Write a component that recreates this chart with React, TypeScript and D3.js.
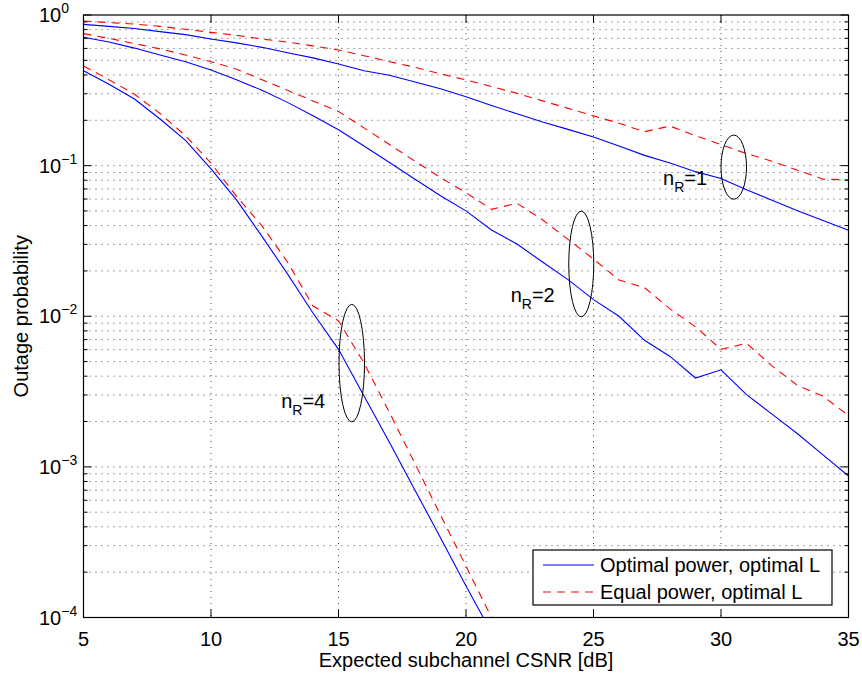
import React from "react";
import * as d3 from "d3";

const snr = [5, 6, 7, 8, 9, 10, 11, 12, 13, 14, 15, 16, 17, 18, 19, 20, 21, 22, 23, 24, 25, 26, 27, 28, 29, 30, 31, 32, 33, 34, 35];
const snr4 = [5, 6, 7, 8, 9, 10, 11, 12, 13, 14, 15, 16, 17, 18, 19, 20, 21, 22];

const opt1 = [0.867, 0.841, 0.813, 0.776, 0.741, 0.693, 0.653, 0.61, 0.562, 0.519, 0.473, 0.427, 0.398, 0.359, 0.324, 0.287, 0.251, 0.221, 0.195, 0.174, 0.155, 0.135, 0.117, 0.104, 0.0912, 0.0822, 0.0692, 0.0589, 0.0501, 0.0432, 0.0372];
const eq1 = [0.912, 0.891, 0.871, 0.841, 0.804, 0.767, 0.733, 0.692, 0.661, 0.624, 0.586, 0.537, 0.49, 0.45, 0.407, 0.371, 0.335, 0.302, 0.269, 0.24, 0.214, 0.191, 0.168, 0.183, 0.158, 0.138, 0.12, 0.107, 0.0933, 0.0813, 0.0804];
const opt2 = [0.711, 0.661, 0.603, 0.543, 0.49, 0.431, 0.372, 0.316, 0.263, 0.214, 0.173, 0.135, 0.105, 0.0813, 0.0631, 0.0501, 0.0374, 0.0302, 0.0229, 0.0175, 0.0129, 0.01, 0.00692, 0.00541, 0.00389, 0.00441, 0.00302, 0.00224, 0.00166, 0.0012, 0.00087];
const eq2 = [0.752, 0.7, 0.646, 0.596, 0.543, 0.49, 0.437, 0.372, 0.316, 0.269, 0.229, 0.178, 0.138, 0.107, 0.0832, 0.0661, 0.0513, 0.0562, 0.0437, 0.0324, 0.024, 0.0174, 0.0155, 0.0112, 0.00851, 0.00603, 0.00661, 0.00468, 0.00347, 0.00295, 0.00219];
const opt4 = [0.427, 0.347, 0.277, 0.204, 0.147, 0.0951, 0.0592, 0.0339, 0.0191, 0.0105, 0.00603, 0.00295, 0.00145, 0.0007, 0.000339, 0.000162, 0.0000794, 0.000038];
const eq4 = [0.459, 0.372, 0.298, 0.222, 0.158, 0.104, 0.0625, 0.0398, 0.0229, 0.0117, 0.00933, 0.0049, 0.00229, 0.00105, 0.000479, 0.000219, 0.0001, 0.0000457];

const xTicks = [5, 10, 15, 20, 25, 30, 35];
const yDecades = [0, -1, -2, -3, -4];
const legendLabels = ["Optimal power, optimal L", "Equal power, optimal L"];

// annotations: ellipse center (dB, log10 p), half width (dB), half height (decades)
const ellipses = [
  { cx: 30.5, cy: -1.01, rx: 0.5, ry: 0.213 },
  { cx: 24.52, cy: -1.653, rx: 0.49, ry: 0.351 },
  { cx: 15.52, cy: -2.311, rx: 0.5, ry: 0.39 },
];
const nrLabels = [
  { x: 27.73, y: -1.13, n: "1" },
  { x: 21.75, y: -1.905, n: "2" },
  { x: 12.75, y: -2.607, n: "4" },
];

const W = 862;
const H = 674;
const L = 83.5;
const R = 848.5;
const T = 15;
const B = 617.5;
const FONT = "'Liberation Sans', Arial, Helvetica, sans-serif";
const FS = 20;

export default function App() {
  const x = d3.scaleLinear().domain([5, 35]).range([L, R]);
  const y = d3.scaleLog().domain([1e-4, 1]).range([B, T]);
  const line = d3
    .line<[number, number]>()
    .x((d) => x(d[0]))
    .y((d) => y(d[1]));

  const series = [
    { xs: snr, ys: opt1, dashed: false },
    { xs: snr, ys: eq1, dashed: true },
    { xs: snr, ys: opt2, dashed: false },
    { xs: snr, ys: eq2, dashed: true },
    { xs: snr4, ys: opt4, dashed: false },
    { xs: snr4, ys: eq4, dashed: true },
  ];

  const minorY: number[] = [];
  for (let e = -4; e < 0; e++) {
    for (let m = 2; m <= 9; m++) minorY.push(m * Math.pow(10, e));
  }

  const dy = y(0.1) - y(1); // px per decade
  const pxPerDb = x(6) - x(5);

  return (
    <svg
      width={W}
      height={H}
      style={{ position: "absolute", left: 0, top: 0, background: "#fff" }}
      fontFamily={FONT}
    >
      <defs>
        <clipPath id="plot">
          <rect x={L} y={T} width={R - L} height={B - T} />
        </clipPath>
      </defs>
      <rect x={0} y={0} width={W} height={H} fill="#fff" />
      {/* grid */}
      <g stroke="#000" strokeWidth={0.9} strokeDasharray="1 5" opacity={0.8}>
        {xTicks.slice(1, -1).map((t) => (
          <line key={"gx" + t} x1={x(t)} x2={x(t)} y1={T} y2={B} />
        ))}
        {yDecades.slice(1, -1).map((e) => (
          <line key={"gy" + e} x1={L} x2={R} y1={y(Math.pow(10, e))} y2={y(Math.pow(10, e))} />
        ))}
        {minorY.map((v, i) => (
          <line key={"gm" + i} x1={L} x2={R} y1={y(v)} y2={y(v)} />
        ))}
      </g>
      {/* curves */}
      <g clipPath="url(#plot)" fill="none">
        {series.map((s, i) => (
          <path
            key={i}
            d={line(s.xs.map((v, j) => [v, s.ys[j]] as [number, number])) || ""}
            stroke={s.dashed ? "#ff0000" : "#0000ff"}
            strokeWidth={1.1}
            strokeDasharray={s.dashed ? "8 6" : undefined}
          />
        ))}
      </g>
      {/* annotations */}
      <g fill="none" stroke="#000" strokeWidth={1}>
        {ellipses.map((e, i) => (
          <ellipse
            key={i}
            cx={x(e.cx)}
            cy={y(Math.pow(10, e.cy))}
            rx={e.rx * pxPerDb}
            ry={e.ry * dy}
          />
        ))}
      </g>
      {nrLabels.map((l, i) => (
        <text key={i} x={x(l.x)} y={y(Math.pow(10, l.y))} fontSize={FS} fill="#000">
          n
          <tspan fontSize={14} dy={7}>R</tspan>
          <tspan fontSize={FS} dy={-7}>={l.n}</tspan>
        </text>
      ))}
      {/* axes box */}
      <rect x={L} y={T} width={R - L} height={B - T} fill="none" stroke="#000" strokeWidth={1.2} />
      {/* ticks */}
      <g stroke="#000" strokeWidth={1}>
        {xTicks.map((t) => (
          <g key={"tx" + t}>
            <line x1={x(t)} x2={x(t)} y1={B} y2={B - 8} />
            <line x1={x(t)} x2={x(t)} y1={T} y2={T + 8} />
          </g>
        ))}
        {yDecades.map((e) => (
          <g key={"ty" + e}>
            <line x1={L} x2={L + 8} y1={y(Math.pow(10, e))} y2={y(Math.pow(10, e))} />
            <line x1={R} x2={R - 8} y1={y(Math.pow(10, e))} y2={y(Math.pow(10, e))} />
          </g>
        ))}
        {minorY.map((v, i) => (
          <g key={"tm" + i}>
            <line x1={L} x2={L + 4} y1={y(v)} y2={y(v)} />
            <line x1={R} x2={R - 4} y1={y(v)} y2={y(v)} />
          </g>
        ))}
      </g>
      {/* tick labels */}
      <g fontSize={FS} fill="#000">
        {xTicks.map((t) => (
          <text key={"lx" + t} x={x(t)} y={B + 28} textAnchor="middle">
            {t}
          </text>
        ))}
        {yDecades.map((e) => (
          <text key={"ly" + e} x={39} y={y(Math.pow(10, e)) + 7}>
            10
            <tspan fontSize={14} dy={-9}>{e === 0 ? "0" : "\u2212" + Math.abs(e)}</tspan>
          </text>
        ))}
      </g>
      {/* axis titles */}
      <text x={(L + R) / 2} y={667} textAnchor="middle" fontSize={FS} fill="#000">
        Expected subchannel CSNR [dB]
      </text>
      <text
        transform={`translate(28, ${(T + B) / 2}) rotate(-90)`}
        textAnchor="middle"
        fontSize={FS}
        fill="#000"
      >
        Outage probability
      </text>
      {/* legend */}
      <g>
        <rect x={533} y={550} width={299} height={55} fill="#fff" stroke="#000" strokeWidth={1.2} />
        <line x1={543} x2={594} y1={565} y2={565} stroke="#0000ff" strokeWidth={1.1} />
        <line x1={543} x2={594} y1={592} y2={592} stroke="#ff0000" strokeWidth={1.1} strokeDasharray="8 6" />
        <text x={600} y={572} fontSize={FS} fill="#000">{legendLabels[0]}</text>
        <text x={600} y={599} fontSize={FS} fill="#000">{legendLabels[1]}</text>
      </g>
    </svg>
  );
}
